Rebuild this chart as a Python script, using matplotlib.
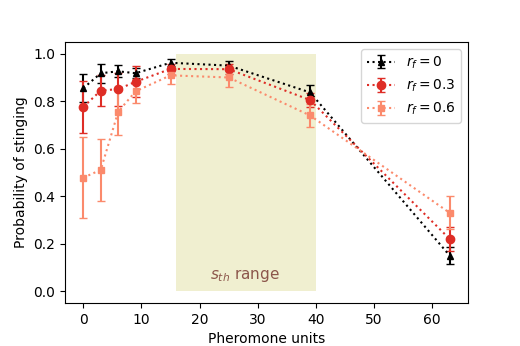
import matplotlib
matplotlib.use('Agg')
import matplotlib.pyplot as plt
import numpy as np

x = [0, 3, 6, 9, 15, 25, 39, 63]

p_rf0 = [0.855, 0.918, 0.926, 0.918, 0.962, 0.950, 0.837, 0.150]
e_rf0 = [0.060, 0.040, 0.025, 0.020, 0.015, 0.020, 0.030, 0.035]

p_rf3 = [0.776, 0.845, 0.851, 0.882, 0.936, 0.935, 0.805, 0.220]
e_rf3 = [0.110, 0.065, 0.070, 0.065, 0.020, 0.020, 0.030, 0.050]

p_rf6 = [0.478, 0.511, 0.756, 0.842, 0.909, 0.900, 0.740, 0.330]
e_rf6 = [0.170, 0.130, 0.100, 0.050, 0.035, 0.040, 0.050, 0.070]

sth_lo, sth_hi = 16, 40

fig, ax = plt.subplots(figsize=(5.2, 3.46), dpi=100)
fig.subplots_adjust(left=0.125, right=0.9, top=0.879, bottom=0.124)

ax.fill_between([sth_lo, sth_hi], 0, 1, color='#f0efd0', lw=0)
ax.text(27.8, 0.065, r'$s_{th}$ range', color='C5', fontsize=11,
        ha='center', va='center')

ax.errorbar(x, p_rf0, yerr=e_rf0, fmt='^:', color='black', capsize=3,
            markersize=5, label=r'$r_f=0$')
ax.errorbar(x, p_rf3, yerr=e_rf3, fmt='o:', color='#de2d26', capsize=3,
            markersize=6, label=r'$r_f=0.3$')
ax.errorbar(x, p_rf6, yerr=e_rf6, fmt='s:', color='#fb8a6c', capsize=3,
            markersize=5, label=r'$r_f=0.6$')

ax.set_xlabel('Pheromone units')
ax.set_ylabel('Probability of stinging')
ax.legend(loc='upper right')

plt.savefig('out.png')
